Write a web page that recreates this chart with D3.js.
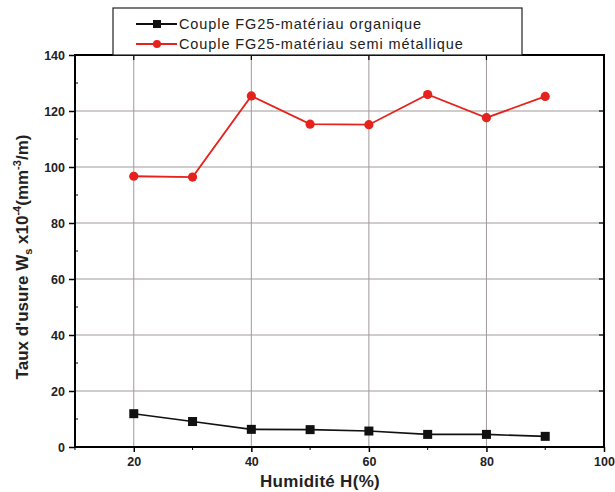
<!DOCTYPE html>
<html><head><meta charset="utf-8">
<script src="https://cdn.jsdelivr.net/npm/d3@7"></script>
<style>body{margin:0;background:#fff}svg{display:block}</style>
</head><body>
<svg id="c" width="615" height="492"></svg>
<script>
const humidity = [20, 30, 40, 50, 60, 70, 80, 90];
const organique = [11.9, 9.1, 6.3, 6.2, 5.7, 4.5, 4.5, 3.8];
const semiMetallique = [96.7, 96.4, 125.4, 115.3, 115.1, 125.9, 117.6, 125.2];
const xTicks = [20, 40, 60, 80, 100];
const yTicks = [0, 20, 40, 60, 80, 100, 120, 140];
const seriesNames = ["Couple FG25-matériau organique", "Couple FG25-matériau semi métallique"];

const svg = d3.select("#c");
const L = 75, R = 604, T = 55, B = 447;
const x = d3.scaleLinear().domain([10, 100]).range([L, R]);
const y = d3.scaleLinear().domain([0, 140]).range([B, T]);
const font = "'Liberation Sans', Arial, sans-serif";

// grid
const g = svg.append("g");
g.selectAll(".gx").data(xTicks.filter(d => d < 100)).enter().append("line")
  .attr("x1", d => x(d)).attr("x2", d => x(d)).attr("y1", T).attr("y2", B)
  .attr("stroke", "#a09999").attr("stroke-width", 1);
g.selectAll(".gy").data(yTicks.filter(d => d > 0 && d < 140)).enter().append("line")
  .attr("y1", d => y(d)).attr("y2", d => y(d)).attr("x1", L).attr("x2", R)
  .attr("stroke", "#a09999").attr("stroke-width", 1);

// axes
const minorX = d3.range(10, 101, 10);
const minorY = d3.range(10, 140, 20);
const xAxis = d3.axisBottom(x).tickValues(xTicks).tickSize(5).tickPadding(5);
const ax = svg.append("g").attr("transform", `translate(0,${B})`).call(xAxis);
ax.select(".domain").remove();
ax.selectAll("line").attr("stroke", "#000").attr("stroke-width", 1.5);
ax.selectAll("text").attr("font-family", font).attr("font-weight", "bold").attr("font-size", 12.5).attr("fill", "#222");
svg.append("g").selectAll("line").data(minorX.filter(d => !xTicks.includes(d))).enter().append("line")
  .attr("x1", d => x(d)).attr("x2", d => x(d)).attr("y1", B).attr("y2", B + 3).attr("stroke", "#000").attr("stroke-width", 1);

const yAxis = d3.axisLeft(y).tickValues(yTicks).tickSize(6).tickPadding(4);
const ay = svg.append("g").attr("transform", `translate(${L},0)`).call(yAxis);
ay.select(".domain").remove();
ay.selectAll("line").attr("stroke", "#000").attr("stroke-width", 1.5);
ay.selectAll("text").attr("font-family", font).attr("font-weight", "bold").attr("font-size", 12.5).attr("fill", "#222");
svg.append("g").selectAll("line").data(minorY).enter().append("line")
  .attr("x1", L).attr("x2", L + 3).attr("y1", d => y(d)).attr("y2", d => y(d)).attr("stroke", "#000").attr("stroke-width", 1);

// right and top inward ticks
svg.append("g").selectAll("line").data(yTicks.filter(d => d > 0 && d < 140)).enter().append("line")
  .attr("x1", R).attr("x2", R - 5).attr("y1", d => y(d)).attr("y2", d => y(d)).attr("stroke", "#000").attr("stroke-width", 1.2);
svg.append("g").selectAll("line").data(xTicks.filter(d => d < 100)).enter().append("line")
  .attr("x1", d => x(d)).attr("x2", d => x(d)).attr("y1", T).attr("y2", T + 5).attr("stroke", "#000").attr("stroke-width", 1.2);

// frame
svg.append("rect").attr("x", L).attr("y", T).attr("width", R - L).attr("height", B - T)
  .attr("fill", "none").attr("stroke", "#000").attr("stroke-width", 2);

// lines
const line = d3.line().x((d, i) => x(humidity[i])).y(d => y(d));
svg.append("path").datum(organique).attr("d", line).attr("fill", "none").attr("stroke", "#111").attr("stroke-width", 1.6);
svg.append("path").datum(semiMetallique).attr("d", line).attr("fill", "none").attr("stroke", "#e5221b").attr("stroke-width", 1.8);
svg.append("g").selectAll("rect").data(organique).enter().append("rect")
  .attr("x", (d, i) => x(humidity[i]) - 4.5).attr("y", d => y(d) - 4.5).attr("width", 9).attr("height", 9).attr("fill", "#111");
svg.append("g").selectAll("circle").data(semiMetallique).enter().append("circle")
  .attr("cx", (d, i) => x(humidity[i])).attr("cy", d => y(d)).attr("r", 4.6).attr("fill", "#e5221b");

// legend
svg.append("rect").attr("x", 113).attr("y", 8).attr("width", 409).attr("height", T - 8)
  .attr("fill", "#fff").attr("stroke", "#222").attr("stroke-width", 1.2);
const leg = [{c: "#111", s: "sq", t: seriesNames[0], yy: 24}, {c: "#e5221b", s: "ci", t: seriesNames[1], yy: 44}];
leg.forEach(l => {
  svg.append("line").attr("x1", 136).attr("x2", 177).attr("y1", l.yy).attr("y2", l.yy).attr("stroke", l.c).attr("stroke-width", 1.8);
  if (l.s === "sq") svg.append("rect").attr("x", 153).attr("y", l.yy - 4).attr("width", 8).attr("height", 8).attr("fill", l.c);
  else svg.append("circle").attr("cx", 157).attr("cy", l.yy).attr("r", 4).attr("fill", l.c);
  svg.append("text").attr("x", 179).attr("y", l.yy + 5).attr("font-family", font).attr("font-size", 14.5)
    .attr("letter-spacing", 0.9).attr("fill", "#222").text(l.t);
});

// axis titles
svg.append("text").attr("x", 320).attr("y", 487).attr("text-anchor", "middle").attr("font-family", font)
  .attr("font-weight", "bold").attr("font-size", 17).attr("letter-spacing", 0.3).attr("fill", "#222").text("Humidité H(%)");
const yt = svg.append("text").attr("transform", "translate(28,257) rotate(-90)").attr("text-anchor", "middle")
  .attr("font-family", font).attr("font-weight", "bold").attr("font-size", 17).attr("fill", "#222");
yt.append("tspan").text("Taux d'usure W");
yt.append("tspan").attr("font-size", 11).attr("dy", 4).text("s");
yt.append("tspan").attr("dy", -4).text(" x10");
yt.append("tspan").attr("font-size", 11).attr("dy", -7).text("-4");
yt.append("tspan").attr("dy", 7).text("(mm");
yt.append("tspan").attr("font-size", 11).attr("dy", -7).text("-3");
yt.append("tspan").attr("dy", 7).text("/m)");
</script>
</body></html>
